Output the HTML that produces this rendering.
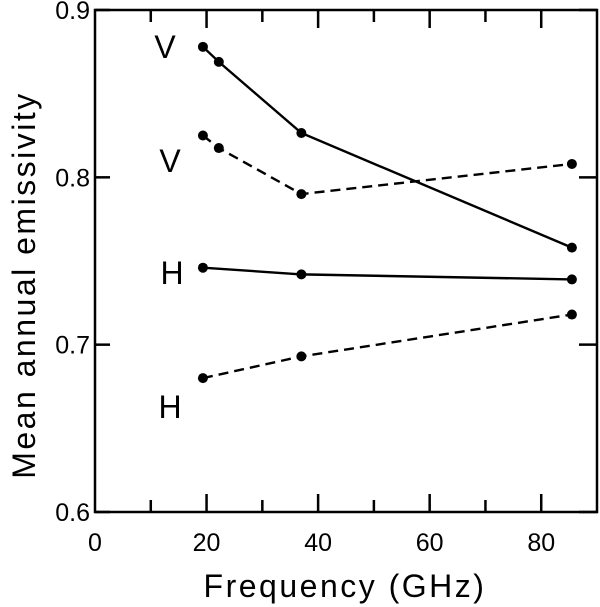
<!DOCTYPE html>
<html><head><meta charset="utf-8"><style>
body{margin:0;background:#fff;}
svg{display:block;font-family:"Liberation Sans","DejaVu Sans",sans-serif;}
</style></head><body>
<svg id="chart" width="600" height="607"></svg>
<script>
const xTicks=[0,20,40,60,80];
const yTicks=[0.6,0.7,0.8,0.9];
const yTickLabels=["0.6","0.7","0.8","0.9"];
const vSolidX=[19.35,22.2,37,85.5];
const vSolidY=[0.878,0.869,0.8265,0.758];
const vDashX=[19.35,22.2,37,85.5];
const vDashY=[0.825,0.8175,0.790,0.808];
const hSolidX=[19.35,37,85.5];
const hSolidY=[0.746,0.742,0.739];
const hDashX=[19.35,37,85.5];
const hDashY=[0.680,0.693,0.718];
const L=95,R=597,T=10,B=512;
const sx=v=>L+v/90*(R-L);
const sy=v=>B-(v-0.6)/0.3*(B-T);
const svg=document.getElementById('chart');
const NS='http://www.w3.org/2000/svg';
function mk(tag,attrs,parent){const e=document.createElementNS(NS,tag);for(const k in attrs)e.setAttribute(k,attrs[k]);(parent||svg).appendChild(e);return e;}
const frame=mk('rect',{x:L,y:T,width:R-L,height:B-T,fill:'none',stroke:'#000','stroke-width':2.5});


for(let v=10;v<90;v+=10){
  const major=v%20===0;const len=major?18:12;
  const t=mk('line',{x1:sx(v),x2:sx(v),y1:B,y2:B-len,stroke:'#000','stroke-width':2.5});
  
  
  const t2=mk('line',{x1:sx(v),x2:sx(v),y1:T,y2:T+len,stroke:'#000','stroke-width':2.5});
  
  
}
xTicks.forEach(v=>{
  const tx=mk('text',{x:sx(v),y:551,'font-size':25,'text-anchor':'middle',fill:'#000'});
  tx.textContent=v;
  
  
});
yTicks.forEach((v,i)=>{
  const t=mk('line',{x1:L,x2:L+15,y1:sy(v),y2:sy(v),stroke:'#000','stroke-width':2.5});
  
  
  const t2=mk('line',{x1:R,x2:R-18,y1:sy(v),y2:sy(v),stroke:'#000','stroke-width':2.5});
  
  
  const tx=mk('text',{x:L-5,y:sy(v)+9,'font-size':25,'text-anchor':'end',fill:'#000'});
  tx.textContent=yTickLabels[i];
  
  
});
function series(xs,ys,dash,name){
  const pts=xs.map((x,i)=>sx(x)+','+sy(ys[i])).join(' ');
  const pl=mk('polyline',{points:pts,fill:'none',stroke:'#000','stroke-width':2.4,'stroke-dasharray':dash?'10,6':'none'});
  
  
  xs.forEach((x,i)=>{
    const c=mk('circle',{cx:sx(x),cy:sy(ys[i]),r:5,fill:'#000'});
    
    
  });
}
series(vSolidX,vSolidY,false,'v-solid');
series(vDashX,vDashY,true,'v-dashed');
series(hSolidX,hSolidY,false,'h-solid');
series(hDashX,hDashY,true,'h-dashed');
[['V',165,58],['V',170,172],['H',172,284],['H',170,418]].forEach(([s,x,y])=>{
  const tx=mk('text',{x:x,y:y,'font-size':32,'text-anchor':'middle',fill:'#000'});
  tx.textContent=s;
  
  
});
const xl=mk('text',{x:345,y:597,'font-size':32,'text-anchor':'middle',fill:'#000','letter-spacing':'2.5'});
xl.textContent='Frequency (GHz)';


const yl=mk('text',{x:0,y:0,'font-size':32,'text-anchor':'middle',fill:'#000','letter-spacing':'2.5',transform:'translate(35,285) rotate(-90)'});
yl.textContent='Mean annual emissivity';


</script>
</body></html>
